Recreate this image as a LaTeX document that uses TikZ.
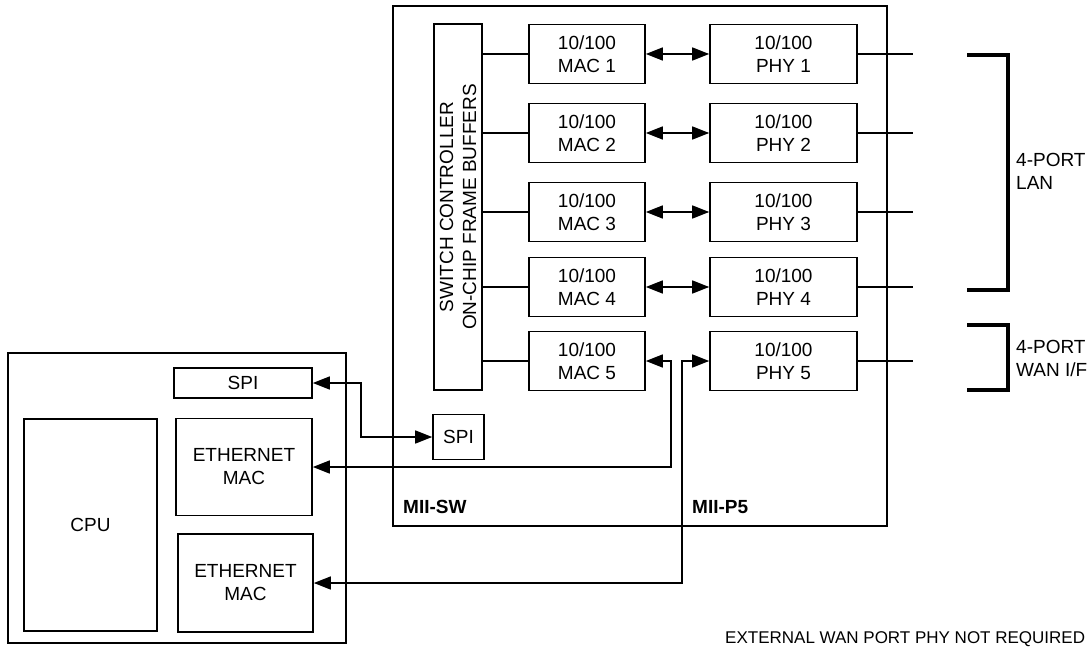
\documentclass[tikz,border=0pt]{standalone}
\usepackage{fontspec}
\setmainfont{Liberation Sans}
\usetikzlibrary{arrows.meta}
\begin{document}
\begin{tikzpicture}[x=1pt,y=-1pt,
  txt/.style={font=\fontsize{19}{23}\selectfont},
  box/.style={draw, line width=1.6pt, inner sep=0pt, align=center, txt},
  macbox/.style={box, minimum width=116pt, minimum height=59pt},
  phybox/.style={box, minimum width=147pt, minimum height=59pt},
  wire/.style={line width=1.5pt},
  biarrow/.style={wire, {Triangle[length=17pt 0 0,width=13pt 0 0]}-{Triangle[length=17pt 0 0,width=13pt 0 0]}},
  bracket/.style={line width=3.6pt},
  lbl/.style={inner sep=0pt, align=left, txt},
  boldlbl/.style={inner sep=0pt, font=\fontsize{19}{23}\selectfont\bfseries}
]
\useasboundingbox (0,0) rectangle (1091,647);

% switch chip outline
\node[draw, line width=1.6pt, inner sep=0pt, minimum width=494pt, minimum height=520pt] (chip) at (640,266) {};

% switch controller bar
\node[box, rotate=90, minimum width=366pt, minimum height=48pt] (sw) at (458,207)
  {SWITCH CONTROLLER\\ON-CHIP FRAME BUFFERS};

% MACs
\node[macbox] (mac1) at (587,54) {10/100\\MAC 1};
\node[macbox] (mac2) at (587,133) {10/100\\MAC 2};
\node[macbox] (mac3) at (587,212) {10/100\\MAC 3};
\node[macbox] (mac4) at (587,287) {10/100\\MAC 4};
\node[macbox] (mac5) at (587,361) {10/100\\MAC 5};

% PHYs
\node[phybox] (phy1) at (783.5,54) {10/100\\PHY 1};
\node[phybox] (phy2) at (783.5,133) {10/100\\PHY 2};
\node[phybox] (phy3) at (783.5,212) {10/100\\PHY 3};
\node[phybox] (phy4) at (783.5,287) {10/100\\PHY 4};
\node[phybox] (phy5) at (783.5,361) {10/100\\PHY 5};

% switch SPI
\node[box, minimum width=51pt, minimum height=45pt] (sspi) at (458.5,437) {SPI};

% labels in chip
\node[boldlbl, anchor=base west] (miisw) at (403,513) {MII-SW};
\node[boldlbl, anchor=base west] (miip5) at (692,513) {MII-P5};

% CPU side
\node[draw, line width=1.6pt, inner sep=0pt, minimum width=338pt, minimum height=290pt] (host) at (177,498) {};
\node[box, minimum width=138pt, minimum height=30pt] (cspi) at (243,383) {SPI};
\node[box, minimum width=136pt, minimum height=97pt] (eth1) at (244,467) {ETHERNET\\MAC};
\node[box, minimum width=135pt, minimum height=98pt] (eth2) at (245.5,583) {ETHERNET\\MAC};
\node[box, minimum width=133pt, minimum height=212pt] (cpu) at (90.5,525) {CPU};

% controller to MACs
\foreach \i in {1,...,5}{
  \draw[wire] (sw.south |- mac\i.west) -- (mac\i.west);
}
% MAC <-> PHY
\foreach \i in {1,...,4}{
  \draw[biarrow] (mac\i.east) -- (phy\i.west);
}
% PHY to ports
\foreach \i in {1,...,5}{
  \draw[wire] (phy\i.east) -- ++(55,0);
}

% SPI link
\draw[biarrow] (cspi.east) -- ++(48,0) |- (sspi.west);

% MII links
\coordinate (c5) at (671,467);
\draw[biarrow] (mac5.east) -| (c5) -- (eth1.east);
\coordinate (c6) at (682,583);
\draw[biarrow] (phy5.west) -| (c6) -- (eth2.east);

% brackets
\draw[bracket] (967,55) -- (1008,55) -- (1008,290) -- (967,290);
\draw[bracket] (967,325) -- (1008,325) -- (1008,390) -- (967,390);
\node[lbl, anchor=west] (lan) at (1016,171) {4-PORT\\LAN};
\node[lbl, anchor=west] (wan) at (1016,358) {4-PORT\\WAN I/F};

% note
\node[inner sep=0pt, anchor=base west, font=\fontsize{17}{20}\selectfont] (note) at (725,643) {EXTERNAL WAN PORT PHY NOT REQUIRED};
\end{tikzpicture}
\end{document}
